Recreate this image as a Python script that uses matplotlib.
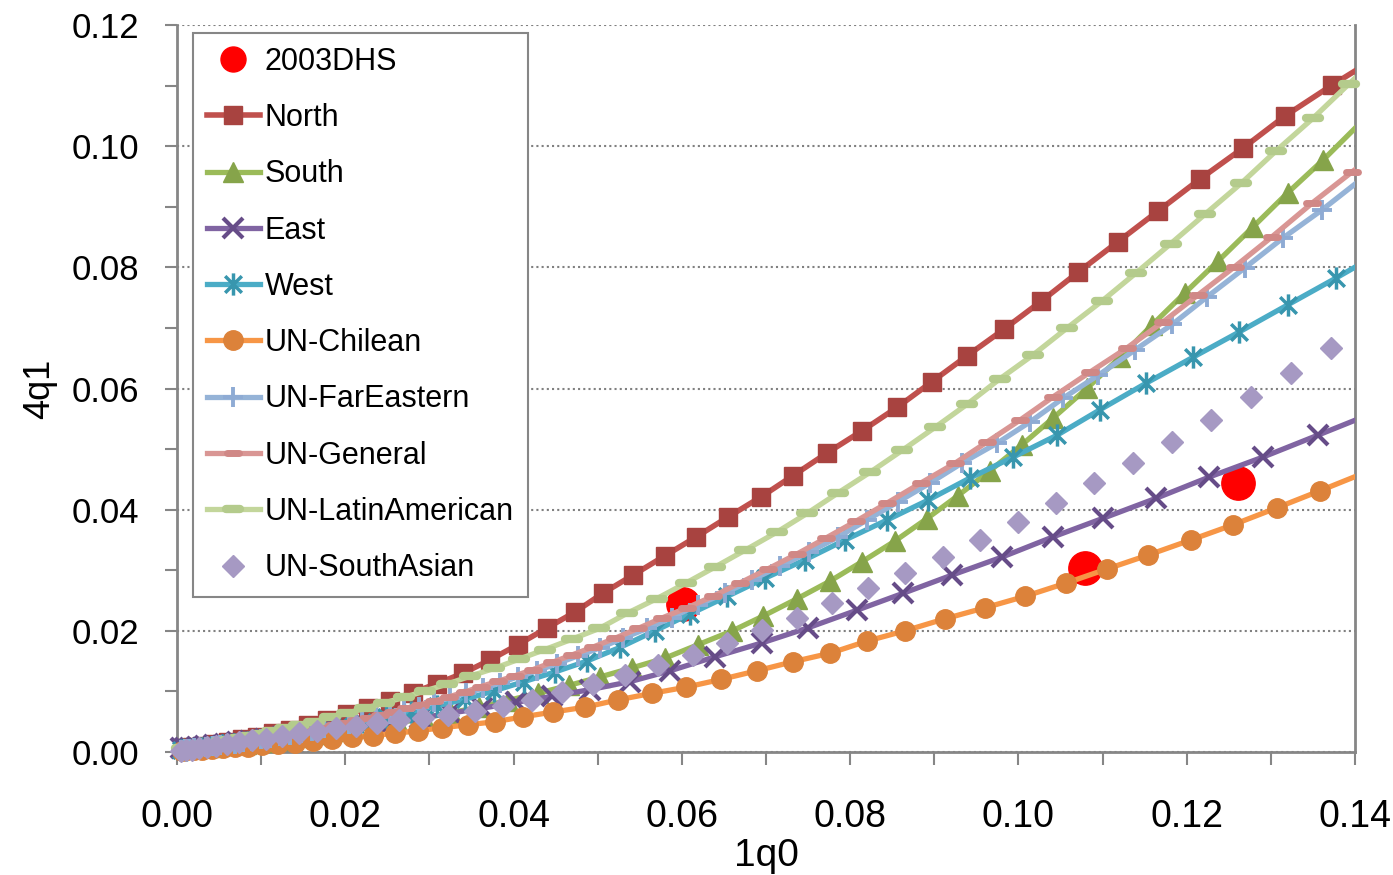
import matplotlib
matplotlib.use("Agg")
import matplotlib.pyplot as plt
from matplotlib import font_manager
from matplotlib.lines import Line2D
from matplotlib.markers import MarkerStyle
from matplotlib.path import Path
from matplotlib.ticker import MultipleLocator, FormatStrFormatter
import numpy as np

#%% data (1q0, 4q1)
dhs_x = [0.0601, 0.1079, 0.1261]
dhs_y = [0.0244, 0.0304, 0.0444]

north_x = [0.0007, 0.0018, 0.0031, 0.0045, 0.0061, 0.0077, 0.0095, 0.0114, 0.0134, 0.0156,
           0.0178, 0.0202, 0.0227, 0.0253, 0.0280, 0.0309, 0.0340, 0.0372, 0.0405, 0.0440,
           0.0473, 0.0506, 0.0542, 0.0580, 0.0617, 0.0655, 0.0694, 0.0732, 0.0773, 0.0814,
           0.0856, 0.0897, 0.0939, 0.0983, 0.1027, 0.1071, 0.1118, 0.1166, 0.1216, 0.1267,
           0.1317, 0.1373, 0.1430]
north_y = [0.0006, 0.0008, 0.0010, 0.0013, 0.0017, 0.0021, 0.0025, 0.0031, 0.0037, 0.0044,
           0.0052, 0.0062, 0.0073, 0.0085, 0.0098, 0.0113, 0.0130, 0.0152, 0.0177, 0.0205,
           0.0231, 0.0262, 0.0292, 0.0324, 0.0355, 0.0388, 0.0421, 0.0456, 0.0494, 0.0530,
           0.0569, 0.0611, 0.0654, 0.0698, 0.0744, 0.0792, 0.0842, 0.0893, 0.0946, 0.0997,
           0.1050, 0.1101, 0.1150]

south_x = [0.0007, 0.0017, 0.0030, 0.0045, 0.0063, 0.0082, 0.0103, 0.0126, 0.0151, 0.0177,
           0.0204, 0.0233, 0.0263, 0.0294, 0.0326, 0.0359, 0.0393, 0.0429, 0.0466, 0.0503,
           0.0541, 0.0580, 0.0619, 0.0660, 0.0696, 0.0737, 0.0776, 0.0814, 0.0853, 0.0891,
           0.0928, 0.0966, 0.1004, 0.1041, 0.1082, 0.1121, 0.1159, 0.1198, 0.1237, 0.1279,
           0.1320, 0.1362, 0.1404]
south_y = [0.0006, 0.0006, 0.0008, 0.0009, 0.0011, 0.0014, 0.0017, 0.0020, 0.0025, 0.0029,
           0.0035, 0.0041, 0.0048, 0.0056, 0.0065, 0.0074, 0.0085, 0.0097, 0.0110, 0.0124,
           0.0139, 0.0155, 0.0177, 0.0200, 0.0224, 0.0253, 0.0282, 0.0314, 0.0348, 0.0385,
           0.0423, 0.0464, 0.0507, 0.0551, 0.0601, 0.0652, 0.0705, 0.0758, 0.0810, 0.0867,
           0.0923, 0.0977, 0.1035]

east_x = [0.0005, 0.0010, 0.0015, 0.0024, 0.0033, 0.0044, 0.0057, 0.0071, 0.0087, 0.0105,
          0.0125, 0.0146, 0.0170, 0.0196, 0.0225, 0.0256, 0.0289, 0.0324, 0.0362, 0.0403,
          0.0446, 0.0491, 0.0538, 0.0586, 0.0639, 0.0695, 0.0750, 0.0808, 0.0863, 0.0921,
          0.0981, 0.1041, 0.1101, 0.1164, 0.1227, 0.1291, 0.1356, 0.1424]
east_y = [0.0006, 0.0006, 0.0007, 0.0008, 0.0010, 0.0012, 0.0014, 0.0016, 0.0018, 0.0021,
          0.0025, 0.0029, 0.0033, 0.0038, 0.0043, 0.0050, 0.0056, 0.0064, 0.0072, 0.0082,
          0.0092, 0.0103, 0.0116, 0.0134, 0.0157, 0.0180, 0.0205, 0.0234, 0.0262, 0.0292,
          0.0322, 0.0355, 0.0386, 0.0419, 0.0454, 0.0487, 0.0523, 0.0561]

west_x = [0.0005, 0.0011, 0.0019, 0.0029, 0.0040, 0.0053, 0.0068, 0.0084, 0.0102, 0.0122,
          0.0144, 0.0168, 0.0193, 0.0220, 0.0248, 0.0278, 0.0309, 0.0342, 0.0377, 0.0412,
          0.0449, 0.0487, 0.0527, 0.0568, 0.0610, 0.0654, 0.0699, 0.0746, 0.0794, 0.0844,
          0.0893, 0.0942, 0.0994, 0.1046, 0.1097, 0.1152, 0.1208, 0.1262, 0.1320, 0.1377,
          0.1436]
west_y = [0.0003, 0.0004, 0.0005, 0.0007, 0.0009, 0.0011, 0.0014, 0.0017, 0.0021, 0.0026,
          0.0031, 0.0036, 0.0043, 0.0050, 0.0058, 0.0066, 0.0076, 0.0087, 0.0101, 0.0116,
          0.0132, 0.0150, 0.0173, 0.0200, 0.0228, 0.0257, 0.0287, 0.0317, 0.0350, 0.0383,
          0.0416, 0.0452, 0.0487, 0.0523, 0.0565, 0.0609, 0.0652, 0.0693, 0.0738, 0.0782,
          0.0829]

chilean_x = [0.0006, 0.0012, 0.0020, 0.0030, 0.0042, 0.0055, 0.0069, 0.0084, 0.0101, 0.0120,
             0.0140, 0.0162, 0.0184, 0.0208, 0.0233, 0.0259, 0.0286, 0.0315, 0.0346, 0.0378,
             0.0411, 0.0447, 0.0485, 0.0524, 0.0565, 0.0605, 0.0647, 0.0689, 0.0732, 0.0776,
             0.0820, 0.0865, 0.0913, 0.0960, 0.1008, 0.1057, 0.1105, 0.1154, 0.1205, 0.1255,
             0.1307, 0.1358, 0.1408]
chilean_y = [0.0002, 0.0003, 0.0004, 0.0004, 0.0005, 0.0007, 0.0008, 0.0009, 0.0011, 0.0013,
             0.0015, 0.0018, 0.0021, 0.0024, 0.0027, 0.0031, 0.0035, 0.0040, 0.0045, 0.0050,
             0.0058, 0.0066, 0.0074, 0.0086, 0.0097, 0.0107, 0.0120, 0.0134, 0.0149, 0.0163,
             0.0183, 0.0200, 0.0220, 0.0238, 0.0257, 0.0279, 0.0302, 0.0325, 0.0350, 0.0375,
             0.0403, 0.0431, 0.0459]

fareast_x = [0.0005, 0.0010, 0.0014, 0.0020, 0.0027, 0.0034, 0.0043, 0.0051, 0.0059, 0.0069,
             0.0078, 0.0089, 0.0100, 0.0111, 0.0122, 0.0134, 0.0147, 0.0160, 0.0175, 0.0189,
             0.0204, 0.0220, 0.0237, 0.0253, 0.0270, 0.0288, 0.0305, 0.0324, 0.0343, 0.0364,
             0.0384, 0.0405, 0.0428, 0.0452, 0.0477, 0.0503, 0.0530, 0.0559, 0.0588, 0.0619,
             0.0651, 0.0683, 0.0717, 0.0751, 0.0786, 0.0820, 0.0857, 0.0895, 0.0933, 0.0975,
             0.1014, 0.1053, 0.1095, 0.1139, 0.1183, 0.1224, 0.1269, 0.1314, 0.1361, 0.1406]
fareast_y = [0.0004, 0.0005, 0.0005, 0.0006, 0.0007, 0.0008, 0.0010, 0.0011, 0.0013, 0.0014,
             0.0016, 0.0018, 0.0021, 0.0023, 0.0026, 0.0028, 0.0032, 0.0035, 0.0039, 0.0043,
             0.0047, 0.0052, 0.0057, 0.0063, 0.0069, 0.0075, 0.0082, 0.0089, 0.0097, 0.0105,
             0.0114, 0.0124, 0.0134, 0.0146, 0.0159, 0.0172, 0.0188, 0.0204, 0.0222, 0.0243,
             0.0262, 0.0284, 0.0307, 0.0330, 0.0355, 0.0383, 0.0413, 0.0444, 0.0477, 0.0510,
             0.0545, 0.0584, 0.0622, 0.0664, 0.0706, 0.0751, 0.0799, 0.0848, 0.0895, 0.0944]

general_x = [0.0007, 0.0013, 0.0019, 0.0026, 0.0033, 0.0040, 0.0049, 0.0057, 0.0065, 0.0074,
             0.0082, 0.0090, 0.0100, 0.0109, 0.0119, 0.0130, 0.0140, 0.0151, 0.0163, 0.0175,
             0.0187, 0.0200, 0.0213, 0.0227, 0.0241, 0.0257, 0.0272, 0.0289, 0.0305, 0.0323,
             0.0342, 0.0361, 0.0382, 0.0402, 0.0423, 0.0446, 0.0469, 0.0494, 0.0521, 0.0548,
             0.0576, 0.0606, 0.0637, 0.0669, 0.0702, 0.0737, 0.0771, 0.0807, 0.0844, 0.0884,
             0.0925, 0.0963, 0.1002, 0.1041, 0.1085, 0.1129, 0.1172, 0.1213, 0.1257, 0.1301,
             0.1349, 0.1396, 0.1444]
general_y = [0.0004, 0.0005, 0.0006, 0.0007, 0.0008, 0.0010, 0.0011, 0.0013, 0.0014, 0.0016,
             0.0017, 0.0019, 0.0021, 0.0023, 0.0026, 0.0028, 0.0031, 0.0034, 0.0037, 0.0040,
             0.0044, 0.0048, 0.0052, 0.0056, 0.0061, 0.0066, 0.0072, 0.0078, 0.0084, 0.0091,
             0.0099, 0.0108, 0.0117, 0.0126, 0.0136, 0.0148, 0.0160, 0.0173, 0.0188, 0.0204,
             0.0221, 0.0238, 0.0257, 0.0279, 0.0302, 0.0327, 0.0353, 0.0381, 0.0411, 0.0444,
             0.0477, 0.0512, 0.0548, 0.0586, 0.0627, 0.0667, 0.0710, 0.0754, 0.0801, 0.0850,
             0.0906, 0.0957, 0.1007]

latin_x = [0.0006, 0.0011, 0.0015, 0.0021, 0.0029, 0.0036, 0.0044, 0.0053, 0.0063, 0.0074,
           0.0086, 0.0099, 0.0113, 0.0128, 0.0145, 0.0163, 0.0182, 0.0202, 0.0223, 0.0246,
           0.0270, 0.0295, 0.0321, 0.0348, 0.0377, 0.0406, 0.0437, 0.0469, 0.0502, 0.0535,
           0.0570, 0.0605, 0.0639, 0.0675, 0.0713, 0.0749, 0.0786, 0.0824, 0.0862, 0.0901,
           0.0939, 0.0978, 0.1017, 0.1058, 0.1099, 0.1140, 0.1181, 0.1222, 0.1265, 0.1306,
           0.1350, 0.1393, 0.1436]
latin_y = [0.0006, 0.0007, 0.0008, 0.0010, 0.0012, 0.0013, 0.0015, 0.0018, 0.0020, 0.0023,
           0.0026, 0.0030, 0.0034, 0.0039, 0.0044, 0.0050, 0.0057, 0.0064, 0.0072, 0.0081,
           0.0090, 0.0101, 0.0112, 0.0125, 0.0138, 0.0153, 0.0169, 0.0186, 0.0204, 0.0229,
           0.0253, 0.0279, 0.0305, 0.0333, 0.0363, 0.0394, 0.0428, 0.0462, 0.0498, 0.0536,
           0.0574, 0.0616, 0.0655, 0.0700, 0.0744, 0.0791, 0.0839, 0.0888, 0.0939, 0.0992,
           0.1046, 0.1103, 0.1159]

sasian_x = [0.0005, 0.0011, 0.0018, 0.0026, 0.0036, 0.0046, 0.0059, 0.0074, 0.0089, 0.0106,
            0.0125, 0.0145, 0.0166, 0.0189, 0.0213, 0.0238, 0.0264, 0.0292, 0.0322, 0.0354,
            0.0387, 0.0422, 0.0458, 0.0494, 0.0532, 0.0572, 0.0613, 0.0654, 0.0695, 0.0737,
            0.0778, 0.0821, 0.0865, 0.0910, 0.0954, 0.1000, 0.1045, 0.1090, 0.1136, 0.1183,
            0.1229, 0.1276, 0.1324, 0.1372]
sasian_y = [0.0002, 0.0003, 0.0004, 0.0006, 0.0008, 0.0010, 0.0013, 0.0016, 0.0019, 0.0022,
            0.0026, 0.0031, 0.0035, 0.0039, 0.0043, 0.0048, 0.0052, 0.0056, 0.0061, 0.0068,
            0.0076, 0.0086, 0.0099, 0.0112, 0.0127, 0.0144, 0.0160, 0.0180, 0.0201, 0.0221,
            0.0246, 0.0271, 0.0295, 0.0322, 0.0350, 0.0380, 0.0411, 0.0444, 0.0477, 0.0512,
            0.0548, 0.0586, 0.0626, 0.0667]

X_MAX, Y_MAX = 0.14, 0.12

#%% fonts
names = {f.name for f in font_manager.fontManager.ttflist}
base_font = 'Liberation Sans' if 'Liberation Sans' in names else 'DejaVu Sans'
narrow_font = 'Liberation Sans Narrow' if 'Liberation Sans Narrow' in names else base_font
plt.rcParams['font.family'] = [base_font, 'DejaVu Sans']

# excel-like asterisk: x plus a vertical bar
star_path = Path([(-0.75, -0.75), (0.75, 0.75), (-0.75, 0.75), (0.75, -0.75), (0, -1), (0, 1)],
                 [Path.MOVETO, Path.LINETO] * 3)
dash = MarkerStyle('_', capstyle='round')

# (label, x, y, line style, marker style)
series = [
    ('2003DHS', dhs_x, dhs_y, None,
     dict(marker='o', ms=24, mfc='#FF0000', mec='#FF0000')),
    ('North', north_x, north_y, dict(color='#C0504D', lw=4),
     dict(marker='s', ms=13, mfc='#A84340', mec='#A84340')),
    ('South', south_x, south_y, dict(color='#9BBB59', lw=3.8),
     dict(marker='^', ms=14, mfc='#86A44A', mec='#86A44A')),
    ('East', east_x, east_y, dict(color='#8064A2', lw=3.8),
     dict(marker='x', ms=14, mec='#664C88', mew=3)),
    ('West', west_x, west_y, dict(color='#4BACC6', lw=3.8),
     dict(marker=star_path, ms=16, mec='#3896AE', mfc='none', mew=2.5)),
    ('UN-Chilean', chilean_x, chilean_y, dict(color='#F79646', lw=3.8),
     dict(marker='o', ms=14, mfc='#DC823A', mec='#DC823A')),
    ('UN-FarEastern', fareast_x, fareast_y, dict(color='#95B3D7', lw=3.8),
     dict(marker='+', ms=14, mec='#8EABD4', mew=2.8)),
    ('UN-General', general_x, general_y, dict(color='#D99694', lw=3.8),
     dict(marker=dash, ms=8, mec='#D08886', mew=5)),
    ('UN-LatinAmerican', latin_x, latin_y, dict(color='#C3D69B', lw=3.8),
     dict(marker=dash, ms=10, mec='#B4CB8C', mew=6)),
    ('UN-SouthAsian', sasian_x, sasian_y, None,
     dict(marker='D', ms=11, mfc='#A699C3', mec='#A699C3')),
]

fig = plt.figure(figsize=(13.93, 8.75), dpi=100)
ax = fig.add_axes([177 / 1393, 1 - 752 / 875, (1355 - 177) / 1393, (752 - 25) / 875])

handles = []
for i, (label, xs, ys, line_kw, mk_kw) in enumerate(series):
    xs = np.asarray(xs)
    ys = np.asarray(ys)
    z = 3 + i
    if line_kw is not None:
        ax.plot(xs, ys, zorder=z, solid_capstyle='round', **line_kw)
    inside = xs <= X_MAX
    ax.plot(xs[inside], ys[inside], linestyle='none', clip_on=False, zorder=z + 0.5, **mk_kw)
    leg_mk = dict(mk_kw)
    if label == '2003DHS':
        leg_mk['ms'] = 18
    if line_kw is not None:
        h = Line2D([], [], **line_kw, **leg_mk)
    else:
        h = Line2D([], [], linestyle='none', **leg_mk)
    handles.append(h)

ax.set_xlim(0, X_MAX)
ax.set_ylim(0, Y_MAX)
ax.xaxis.set_major_locator(MultipleLocator(0.02))
ax.xaxis.set_minor_locator(MultipleLocator(0.01))
ax.yaxis.set_major_locator(MultipleLocator(0.02))
ax.yaxis.set_minor_locator(MultipleLocator(0.01))
ax.xaxis.set_major_formatter(FormatStrFormatter('%.2f'))
ax.yaxis.set_major_formatter(FormatStrFormatter('%.2f'))

grid_color = '#868686'
ax.yaxis.grid(True, which='major', linestyle=(0, (1, 1.5)), color='#808080', lw=1.5)
ax.set_axisbelow(True)
for side in ['left', 'bottom', 'right']:
    ax.spines[side].set_color(grid_color)
    ax.spines[side].set_linewidth(2)
ax.spines['top'].set_visible(False)

ax.tick_params(axis='both', which='both', direction='out', length=9, width=1.5,
               color=grid_color, labelcolor='black')
ax.tick_params(axis='y', which='both', right=False, labelsize=25, pad=18)
ax.tick_params(axis='x', which='major', labelsize=27, pad=25)
for lbl in ax.get_xticklabels():
    lbl.set_fontfamily([narrow_font, 'DejaVu Sans'])

fig.text(40 / 1393, 1 - 389 / 875, '4q1', rotation=90, ha='center', va='center', fontsize=26)
fig.text(766 / 1393, 1 - 856 / 875, '1q0', ha='center', va='center', fontsize=28,
         family=[narrow_font, 'DejaVu Sans'])

leg = ax.legend(handles, [s[0] for s in series], loc='upper left',
                bbox_to_anchor=((193 - 177) / 1178, (752 - 33) / 727), borderaxespad=0,
                fontsize=22, frameon=True, fancybox=False, framealpha=1, edgecolor='#868686',
                handlelength=1.75, handletextpad=0.15, labelspacing=0.86, borderpad=0.45,
                numpoints=1)
leg.get_frame().set_linewidth(1.5)
leg.set_zorder(20)

fig.savefig('out.png', dpi=100)
